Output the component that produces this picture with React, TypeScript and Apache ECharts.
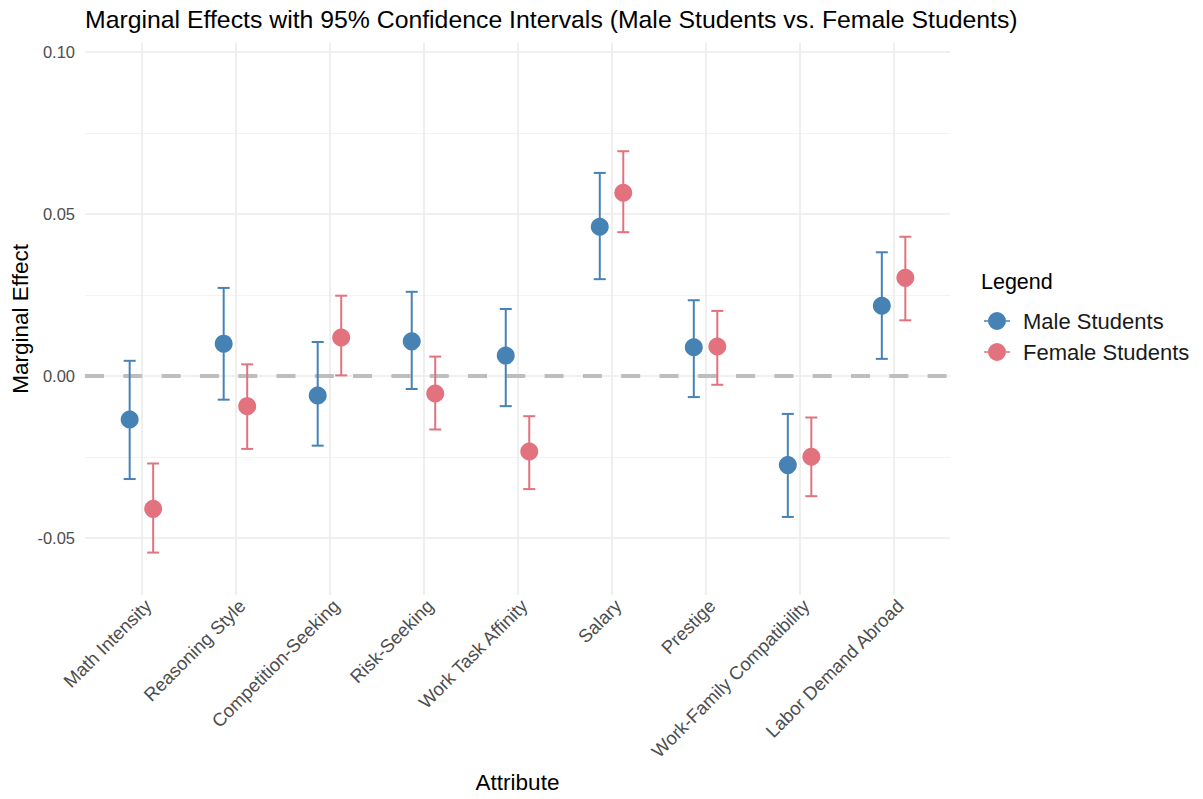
import React, { useEffect, useRef } from "react";
import * as echarts from "echarts";

const categories = [
  "Math Intensity",
  "Reasoning Style",
  "Competition-Seeking",
  "Risk-Seeking",
  "Work Task Affinity",
  "Salary",
  "Prestige",
  "Work-Family Compatibility",
  "Labor Demand Abroad",
];

const maleEst = [-0.0134, 0.0100, -0.0060, 0.0107, 0.0063, 0.0461, 0.0089, -0.0275, 0.0217];
const maleLow = [-0.0318, -0.0073, -0.0215, -0.0040, -0.0093, 0.0299, -0.0065, -0.0435, 0.0053];
const maleHigh = [0.0047, 0.0272, 0.0105, 0.0260, 0.0207, 0.0627, 0.0234, -0.0117, 0.0382];

const femaleEst = [-0.0410, -0.0093, 0.0119, -0.0054, -0.0233, 0.0566, 0.0091, -0.0249, 0.0303];
const femaleLow = [-0.0545, -0.0225, 0.0002, -0.0165, -0.0349, 0.0444, -0.0027, -0.0371, 0.0172];
const femaleHigh = [-0.0270, 0.0036, 0.0248, 0.0060, -0.0124, 0.0694, 0.0201, -0.0128, 0.0430];

const yMajorTicks = [-0.05, 0, 0.05, 0.1];
const yMinorTicks = [-0.025, 0.025, 0.075];
const xTicks = [0, 1, 2, 3, 4, 5, 6, 7, 8];

const MALE = "Male Students";
const FEMALE = "Female Students";
const MALE_COLOR = "#4682B4";
const FEMALE_COLOR = "#E3727F";
const DODGE = 0.125;

const FONT = "'Liberation Sans', Arial, Helvetica, sans-serif";

const legendIcon =
  "path://M0,8.2 L4.1,8.2 L4.1,9.8 L0,9.8 Z M21.9,8.2 L26,8.2 L26,9.8 L21.9,9.8 Z M4,9 A9,9 0 1,0 22,9 A9,9 0 1,0 4,9 Z";

function errorBarItem(color: string) {
  return (params: any, api: any) => {
    const x = api.value(0);
    const top = api.coord([x, api.value(2)]);
    const bot = api.coord([x, api.value(1)]);
    const half = 6;
    const style = { stroke: color, lineWidth: 2, fill: "none" };
    return {
      type: "group",
      children: [
        { type: "line", shape: { x1: top[0], y1: top[1], x2: bot[0], y2: bot[1] }, style },
        { type: "line", shape: { x1: top[0] - half, y1: top[1], x2: top[0] + half, y2: top[1] }, style },
        { type: "line", shape: { x1: bot[0] - half, y1: bot[1], x2: bot[0] + half, y2: bot[1] }, style },
      ],
    };
  };
}

export default function App() {
  const ref = useRef<HTMLDivElement>(null);

  useEffect(() => {
    if (!ref.current) return;
    const chart = echarts.init(ref.current, null, { renderer: "svg" });

    const maleBars = categories.map((_, i) => [i - DODGE, maleLow[i], maleHigh[i]]);
    const femaleBars = categories.map((_, i) => [i + DODGE, femaleLow[i], femaleHigh[i]]);
    const malePts = categories.map((_, i) => [i - DODGE, maleEst[i]]);
    const femalePts = categories.map((_, i) => [i + DODGE, femaleEst[i]]);

    const yMin = -0.0676;
    const yMax = 0.1029;

    chart.setOption({
      animation: false,
      backgroundColor: "#ffffff",
      textStyle: { fontFamily: FONT },
      title: {
        text: "Marginal Effects with 95% Confidence Intervals (Male Students vs. Female Students)",
        left: 80,
        top: 2,
        textStyle: { fontFamily: FONT, fontSize: 24.8, fontWeight: "normal", color: "#000000" },
      },
      legend: {
        orient: "vertical",
        left: 979,
        top: 305,
        itemWidth: 26,
        itemHeight: 18,
        itemGap: 9,
        textStyle: { fontFamily: FONT, fontSize: 22, color: "#1a1a1a", padding: [0, 0, 0, 8] },
        data: [
          { name: MALE, icon: legendIcon, itemStyle: { color: MALE_COLOR } },
          { name: FEMALE, icon: legendIcon, itemStyle: { color: FEMALE_COLOR } },
        ],
      },
      graphic: [
        {
          type: "text",
          left: 981,
          top: 271,
          style: { text: "Legend", fontFamily: FONT, fontSize: 21.5, fill: "#000000" },
        },
      ],
      grid: {
        left: 85,
        right: 253,
        top: 42.7,
        bottom: 204,
        containLabel: false,
        outerBoundsMode: "none",
      },
      xAxis: {
        type: "value",
        min: -0.6,
        max: 8.6,
        name: "Attribute",
        nameLocation: "middle",
        nameGap: 176,
        nameMoveOverlap: false,
        nameTextStyle: { fontFamily: FONT, fontSize: 22.5, color: "#000000" },
        axisLine: { show: false },
        axisTick: { show: false, customValues: xTicks },
        axisLabel: {
          customValues: xTicks,
          rotate: 45,
          margin: 1,
          verticalAlign: "top",
          fontFamily: FONT,
          fontSize: 18.5,
          color: "#4d4d4d",
          formatter: (v: number) => categories[Math.round(v)] ?? "",
        },
        splitLine: { show: true, lineStyle: { color: "#ebebeb", width: 1.6 } },
      },
      yAxis: [
        {
          type: "value",
          min: yMin,
          max: yMax,
          name: "Marginal Effect",
          nameLocation: "middle",
          nameGap: 53,
          nameMoveOverlap: false,
          nameTextStyle: { fontFamily: FONT, fontSize: 22.5, color: "#000000" },
          axisLine: { show: false },
          axisTick: { show: false, customValues: yMajorTicks },
          axisLabel: {
            customValues: yMajorTicks,
            margin: 10,
            fontFamily: FONT,
            fontSize: 16.5,
            color: "#4d4d4d",
            formatter: (v: number) => v.toFixed(2),
          },
          splitLine: { show: true, lineStyle: { color: "#ebebeb", width: 1.6 } },
        },
        {
          type: "value",
          min: yMin,
          max: yMax,
          position: "left",
          axisLine: { show: false },
          axisTick: { show: false, customValues: yMinorTicks },
          axisLabel: { show: false, customValues: yMinorTicks },
          splitLine: { show: true, lineStyle: { color: "#f3f3f3", width: 1 } },
        },
      ],
      series: [
        {
          name: MALE,
          type: "custom",
          z: 3,
          renderItem: errorBarItem(MALE_COLOR),
          data: maleBars,
          encode: { x: 0, y: [1, 2] },
          itemStyle: { color: MALE_COLOR },
          markLine: {
            silent: true,
            symbol: "none",
            label: { show: false },
            z: 1,
            lineStyle: { color: "#bebebe", width: 4, type: [19, 19.3] },
            data: [{ yAxis: 0 }],
          },
        },
        {
          name: FEMALE,
          type: "custom",
          z: 3,
          renderItem: errorBarItem(FEMALE_COLOR),
          data: femaleBars,
          encode: { x: 0, y: [1, 2] },
          itemStyle: { color: FEMALE_COLOR },
        },
        {
          name: MALE,
          type: "scatter",
          z: 4,
          symbolSize: 18,
          itemStyle: { color: MALE_COLOR, opacity: 1 },
          data: malePts,
        },
        {
          name: FEMALE,
          type: "scatter",
          z: 4,
          symbolSize: 18,
          itemStyle: { color: FEMALE_COLOR, opacity: 1 },
          data: femalePts,
        },
      ],
    });

    return () => chart.dispose();
  }, []);

  return <div ref={ref} style={{ width: 1203, height: 799, margin: -8 }} />;
}
